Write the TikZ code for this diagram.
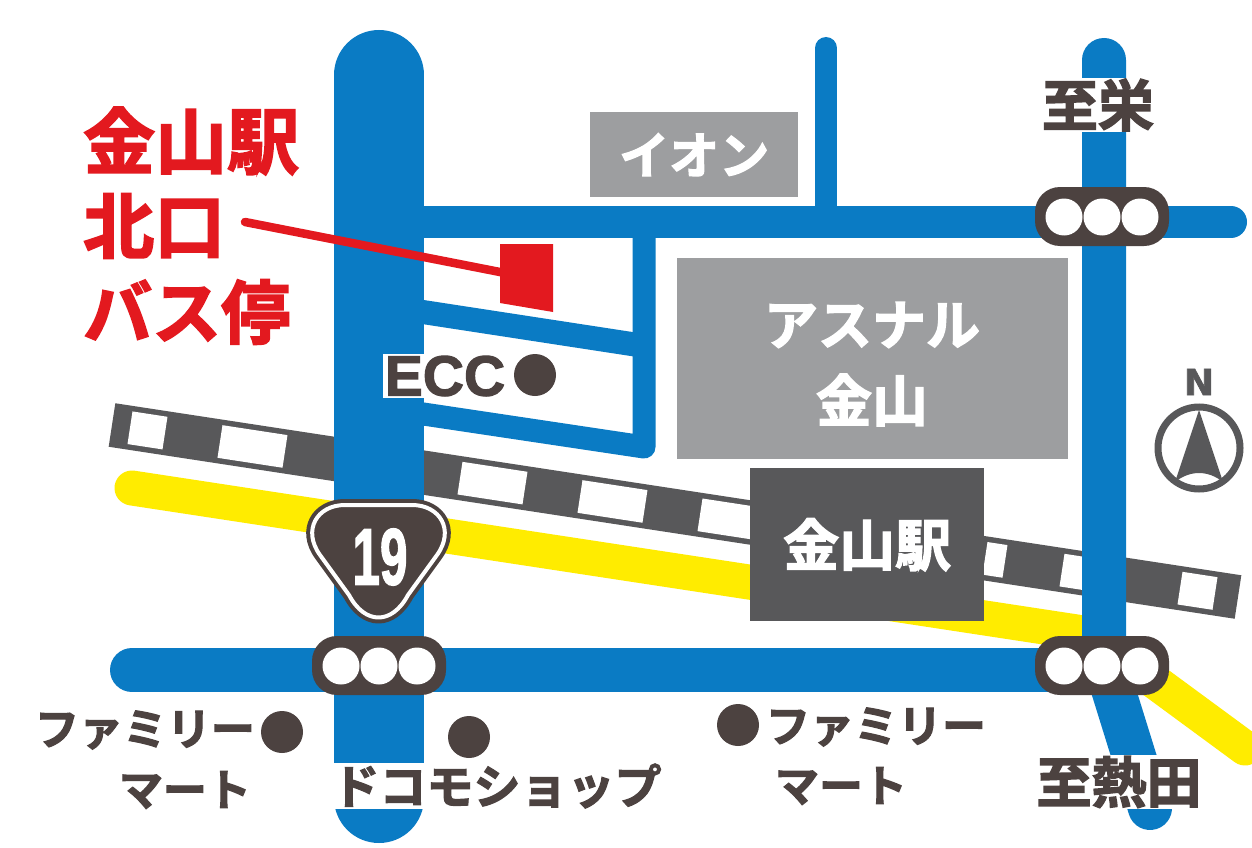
\documentclass[tikz,border=0pt]{standalone}
\usepackage{fontspec}
\usetikzlibrary{calc}
\newfontfamily\jp{Noto Sans CJK JP}[BoldFont={Noto Sans CJK JP Bold},BoldFeatures={FakeBold=2.5}]
\newfontfamily\lat{Liberation Sans}[BoldFeatures={FakeBold=2}]
\newfontfamily\dvf{DejaVu Sans}[BoldFeatures={FakeBold=2}]
\definecolor{roadblue}{HTML}{0A7BC4}
\definecolor{railyellow}{HTML}{FFEC00}
\definecolor{brownish}{HTML}{4C4240}
\definecolor{midgray}{HTML}{9D9EA0}
\definecolor{darkgray}{HTML}{58585A}
\definecolor{redish}{HTML}{E3191F}
\newcommand{\fs}[1]{\fontsize{#1}{#1}\selectfont}
\tikzset{
  road/.style={draw=roadblue,line cap=round,line width=#1},
  signalbox/.style={fill=brownish,rounded corners=25pt},
  lamp/.style={fill=white,circle,inner sep=0pt,minimum size=37pt},
  dot/.style={fill=brownish,circle,inner sep=0pt,minimum size=42pt},
  jtext/.style={inner sep=0pt,text=brownish,font=\jp\bfseries\fs{#1}},
  halo/.style={fill=white,inner sep=1pt},
  redtext/.style={anchor=west,inner sep=0pt,text=redish,font=\jp\bfseries\fs{#1}},
  whitetext/.style={inner sep=0pt,text=white,font=\jp\bfseries\fs{#1}},
  bldg/.style={inner sep=0pt,anchor=north west,minimum width=#1},
}
\begin{document}
\begin{tikzpicture}[x=1pt,y=-1pt]
\useasboundingbox (0,0) rectangle (1252,848);
\fill[white] (0,0) rectangle (1252,848);
% railway
\coordinate (ra) at (112,425);
\coordinate (rb) at (1238,597);
\draw[darkgray,line width=44pt] (ra)--(rb);
\foreach \a/\b in {130/165,220/285,460/525,580/645,700/762,985/1005,1062/1085,1180/1215}{
  \draw[white,line width=33pt] ($(ra)!{(\a-112)/1126}!(rb)$)--($(ra)!{(\b-112)/1126}!(rb)$);
}
% yellow line
\draw[railyellow,line width=35pt,line cap=round,line join=round] (132,488)--(1090,634)--(1245,748);
% roads
\draw[road=90pt] (379,75)--(379,798);
\draw[road=32pt] (379,222)--(1231,222);
\draw[road=22pt] (826,48)--(826,222);
\draw[draw=roadblue,line width=23pt,line join=round] (644,222)--(644,447)--(400,410.5);
\draw[road=24pt] (400,308.5)--(638,345);
\draw[road=44pt] (1104,60)--(1104,660)--(1150,808);
\draw[road=44pt] (132,670)--(1104,670);
% buildings
\node[bldg=208pt,minimum height=85pt,fill=midgray] (aeon) at (590,112) {};
\node[whitetext=50] at (aeon.center) {イオン};
\node[bldg=391pt,minimum height=201pt,fill=midgray] (asunal) at (677,258) {};
\node[whitetext=54] (asu1) at (872,325) {アスナル};
\node[whitetext=56] (asu2) at (872,400) {金山};
\node[bldg=234pt,minimum height=153pt,fill=darkgray] (station) at (750,468) {};
\node[whitetext=56] at (station.center) {金山駅};
% bus stop marker and leader
\coordinate (leaderstart) at (245,222);
\coordinate (stop) at (505,273);
\draw[redish,line width=8.5pt,line cap=round] (leaderstart)--(stop);
\fill[redish] (500,244)--(553,244)--(553,312)--(500,303)--cycle;
% signals
\foreach \nm/\x/\y in {a/379/666,b/1102/666,c/1102/217}{
  \fill[signalbox] (\x-67,\y-30) rectangle (\x+67,\y+29);
  \node[lamp] (l\nm1) at (\x-38,\y) {};
  \node[lamp] (l\nm2) at (\x,\y) {};
  \node[lamp] (l\nm3) at (\x+38,\y) {};
}
% route 19 sign
\def\signpath{(345,505)--(412,505) .. controls (440,505) and (455,530) .. (437,555) -- (408,595) .. controls (392,625) and (365,625) .. (349,595) -- (320,555) .. controls (302,530) and (317,505) .. (345,505) -- cycle}
\draw[fill=brownish,draw=brownish,line width=12pt,line join=round] \signpath;
\draw[white,line width=4pt,line join=round] \signpath;
\node[inner sep=0pt,text=white,font=\lat\bfseries\fs{80},xscale=.62] (nineteen) at (380,557) {19};
% north arrow
\node[inner sep=0pt,text=darkgray,font=\dvf\bfseries\fs{36}] (north) at (1199,382) {N};
\draw[darkgray,line width=7pt] (1199,448) circle (41pt);
\fill[darkgray] (1199,410)--(1223,482) .. controls (1208,470) and (1190,470) .. (1175,482)--cycle;
% red labels
\node[redtext=72] (r1) at (83,141) {金山駅};
\node[redtext=71] (r2) at (83,226) {北口};
\node[redtext=69] (r3) at (83,312) {バス停};
% labels
\node[jtext=56,halo] (sakae) at (1098,105) {至栄};
\node[jtext=55,halo] (atsuta) at (1119,782) {至熱田};
\node[inner sep=2pt,fill=white,text=brownish,font=\lat\bfseries\fs{57}] (ecc) at (445,376) {ECC};
\node[dot] (eccdot) at (535,375) {};
\node[jtext=44] (fm1) at (145,730) {ファミリー};
\node[dot] (fmdot1) at (282,732) {};
\node[jtext=44] (mt1) at (185,790) {マート};
\node[dot] (docodot) at (469,737) {};
\node[jtext=47,halo] (doco) at (497,786) {ドコモショップ};
\node[dot] (fmdot2) at (738,725) {};
\node[jtext=44] (fm2) at (876,727) {ファミリー};
\node[jtext=44] (mt2) at (841,786) {マート};
\end{tikzpicture}
\end{document}
